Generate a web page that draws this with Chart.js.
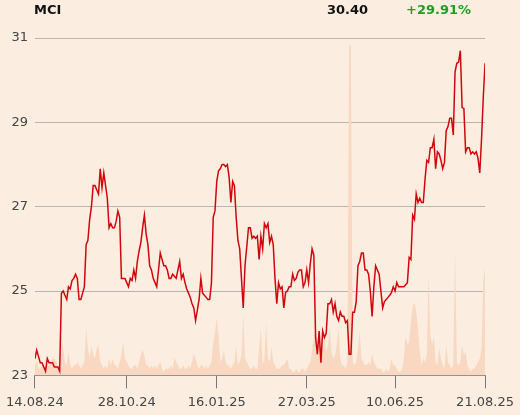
<!DOCTYPE html>
<html>
<head>
<meta charset="utf-8">
<script src="https://cdn.jsdelivr.net/npm/chart.js@4.4.1/dist/chart.umd.min.js"></script>
<style>
  body { margin: 0; background: #fcede1; }
  #wrap { position: relative; width: 520px; height: 415px; }
  .hdr { position: absolute; top: 2px; font: bold 13px 'DejaVu Sans', sans-serif; line-height: 15px; color: #111; }
</style>
</head>
<body>
<div id="wrap">
  <canvas id="myChart" width="520" height="415"></canvas>
  <div class="hdr" id="ticker" style="left:34px"></div>
  <div class="hdr" id="lastPrice" style="left:327px"></div>
  <div class="hdr" id="change" style="left:406px;color:#1f9e1f"></div>
</div>
<script>
var ticker = 'MCI';
var lastPrice = '30.40';
var change = '+29.91%';

// one value per trading day, 14.08.24 .. 21.08.25
var prices = [
  23.4, 23.6, 23.45, 23.3, 23.3, 23.2, 23.1, 23.4, 23.3, 23.3,
  23.3, 23.2, 23.2, 23.2, 23.1, 24.95, 25.0, 24.9, 24.8, 25.1,
  25.05, 25.25, 25.3, 25.4, 25.3, 24.8, 24.8, 24.95, 25.1, 26.1,
  26.2, 26.7, 27.0, 27.5, 27.5, 27.4, 27.3, 27.9, 27.45, 27.8,
  27.5, 27.2, 26.5, 26.6, 26.5, 26.5, 26.65, 26.9, 26.75, 25.3,
  25.3, 25.3, 25.2, 25.1, 25.3, 25.25, 25.5, 25.3, 25.7, 25.95,
  26.15, 26.5, 26.8, 26.35, 26.1, 25.6, 25.5, 25.3, 25.2, 25.1,
  25.5, 25.9, 25.75, 25.6, 25.6, 25.5, 25.3, 25.3, 25.4, 25.35,
  25.3, 25.5, 25.7, 25.3, 25.4, 25.2, 25.05, 24.95, 24.85, 24.7,
  24.6, 24.3, 24.55, 24.8, 25.3, 24.95, 24.9, 24.85, 24.8, 24.8,
  25.2, 26.75, 26.9, 27.6, 27.85, 27.9, 28.0, 28.0, 27.95, 28.0,
  27.7, 27.1, 27.6, 27.5, 26.75, 26.2, 26.0, 25.3, 24.6, 25.6,
  26.05, 26.5, 26.5, 26.25, 26.3, 26.25, 26.3, 25.75, 26.3, 26.0,
  26.6, 26.5, 26.6, 26.15, 26.3, 26.1, 25.3, 24.7, 25.2, 25.05,
  25.1, 24.6, 24.97, 25.0, 25.1, 25.1, 25.4, 25.25, 25.3, 25.45,
  25.5, 25.5, 25.1, 25.2, 25.5, 25.2, 25.65, 26.0, 25.85, 23.9,
  23.5, 24.05, 23.3, 24.05, 23.9, 24.0, 24.7, 24.7, 24.8, 24.5,
  24.7, 24.4, 24.3, 24.5, 24.4, 24.4, 24.25, 24.3, 23.5, 23.5,
  24.5, 24.5, 24.75, 25.6, 25.7, 25.9, 25.9, 25.5, 25.5, 25.4,
  25.0, 24.4, 25.1, 25.6, 25.5, 25.4, 25.0, 24.6, 24.75, 24.8,
  24.85, 24.9, 24.97, 25.1, 25.0, 25.2, 25.1, 25.1, 25.1, 25.1,
  25.15, 25.2, 25.8, 25.75, 26.8, 26.7, 27.3, 27.1, 27.2, 27.1,
  27.1, 27.65, 28.1, 28.05, 28.4, 28.4, 28.6, 27.9, 28.3, 28.25,
  28.1, 27.9, 28.05, 28.8, 28.9, 29.1, 29.1, 28.7, 30.2, 30.4,
  30.43, 30.7, 29.35, 29.33, 28.3, 28.4, 28.4, 28.25, 28.3, 28.25,
  28.3, 28.15, 27.8, 28.6, 29.6, 30.4
];

// traded volume, relative units (biggest day = 98)
var volumes = [
  3, 4, 2, 2, 3, 3, 2, 3, 3, 4,
  5, 5, 4, 3, 2, 12, 8, 4, 3, 7,
  3, 2, 3, 3, 4, 3, 2, 3, 4, 14,
  8, 5, 9, 6, 5, 8, 9, 4, 3, 2,
  3, 2, 5, 3, 5, 3, 3, 2, 4, 6,
  10, 5, 4, 3, 2, 2, 3, 3, 2, 4,
  6, 7.5, 6, 3, 3, 2, 3, 2, 3, 2,
  3, 4, 2, 1, 2, 2, 2, 3, 2, 5.3,
  4, 3, 2, 2, 3, 2, 2, 3, 2, 4,
  6.5, 5, 3, 2, 3, 3, 2, 3, 2, 3,
  4, 9.5, 13, 17, 12, 4, 5, 7.5, 4, 3,
  3, 2, 3, 4, 8.5, 3, 4, 6, 18.4, 5,
  4, 3, 2, 2, 3, 2, 2, 8, 14, 3,
  5, 15.7, 5, 4, 8.5, 4, 3, 2, 2, 2,
  3, 3, 4, 5, 2, 2, 1, 1, 2, 1,
  1, 2, 2, 1, 2, 3, 4, 7.5, 11, 14,
  8, 10, 5, 8, 11, 7, 9, 14, 7, 5,
  6, 9, 14, 5, 3, 3, 2, 4, 98, 98,
  4, 3, 4, 8, 13, 5, 4, 3, 3, 4,
  3, 6.5, 4, 3, 2, 2, 2, 1, 1, 2,
  1, 2, 5, 3, 3, 2, 1, 1, 2, 5,
  12, 9, 10, 16, 20, 21.7, 19, 14, 7, 3,
  5, 4, 6, 30, 12, 9, 11.5, 4, 3, 8,
  5, 3, 2, 9, 4, 3, 2, 3, 37.7, 4,
  3, 4, 9, 6, 7, 3, 2, 1, 2, 2,
  3, 4, 5, 8, 28, 32
];

var tickDays = [0, 52, 103, 154, 204, 255];
var tickLabels = ['14.08.24', '28.10.24', '16.01.25', '27.03.25', '10.06.25', '21.08.25'];
var priceTicks = [23, 25, 27, 29, 31];

document.getElementById('ticker').textContent = ticker;
document.getElementById('lastPrice').textContent = lastPrice;
document.getElementById('change').textContent = change;

Chart.defaults.font.family = "'DejaVu Sans', sans-serif";
Chart.defaults.font.size = 13;
Chart.defaults.color = '#444';

new Chart('myChart', {
  type: 'line',
  data: {
    datasets: [
      {
        data: prices.map((v, i) => ({ x: i, y: v })),
        borderColor: '#d0060c',
        borderWidth: 1.5,
        pointRadius: 0,
        tension: 0,
        yAxisID: 'y',
        order: 1,
      },
      {
        data: volumes.map((v, i) => ({ x: i, y: v })),
        borderWidth: 0,
        backgroundColor: '#f8d8c0',
        fill: 'origin',
        pointRadius: 0,
        tension: 0,
        yAxisID: 'vol',
        order: 2,
      },
    ],
  },
  options: {
    responsive: false,
    animation: false,
    layout: { autoPadding: false, padding: { top: 38, left: 4, right: 33, bottom: -1 } },
    plugins: { legend: { display: false }, tooltip: { enabled: false } },
    scales: {
      x: {
        type: 'linear',
        min: 0,
        max: prices.length - 1,
        afterBuildTicks: (scale) => {
          scale.ticks = tickDays.map((d) => ({ value: d }));
        },
        ticks: {
          padding: 6,
          maxRotation: 0,
          autoSkip: false,
          callback: (value) => tickLabels[tickDays.indexOf(value)],
        },
        grid: { drawOnChartArea: false, tickLength: 13, color: '#777' },
        border: { color: '#888' },
      },
      y: {
        min: 23,
        max: 31,
        afterBuildTicks: (scale) => {
          scale.ticks = priceTicks.map((v) => ({ value: v }));
        },
        ticks: { padding: 7 },
        grid: { drawTicks: false, color: '#b5b5b5' },
        border: { display: false },
      },
      vol: {
        display: false,
        min: 0,
        max: 100,
      },
    },
  },
});
</script>
</body>
</html>
